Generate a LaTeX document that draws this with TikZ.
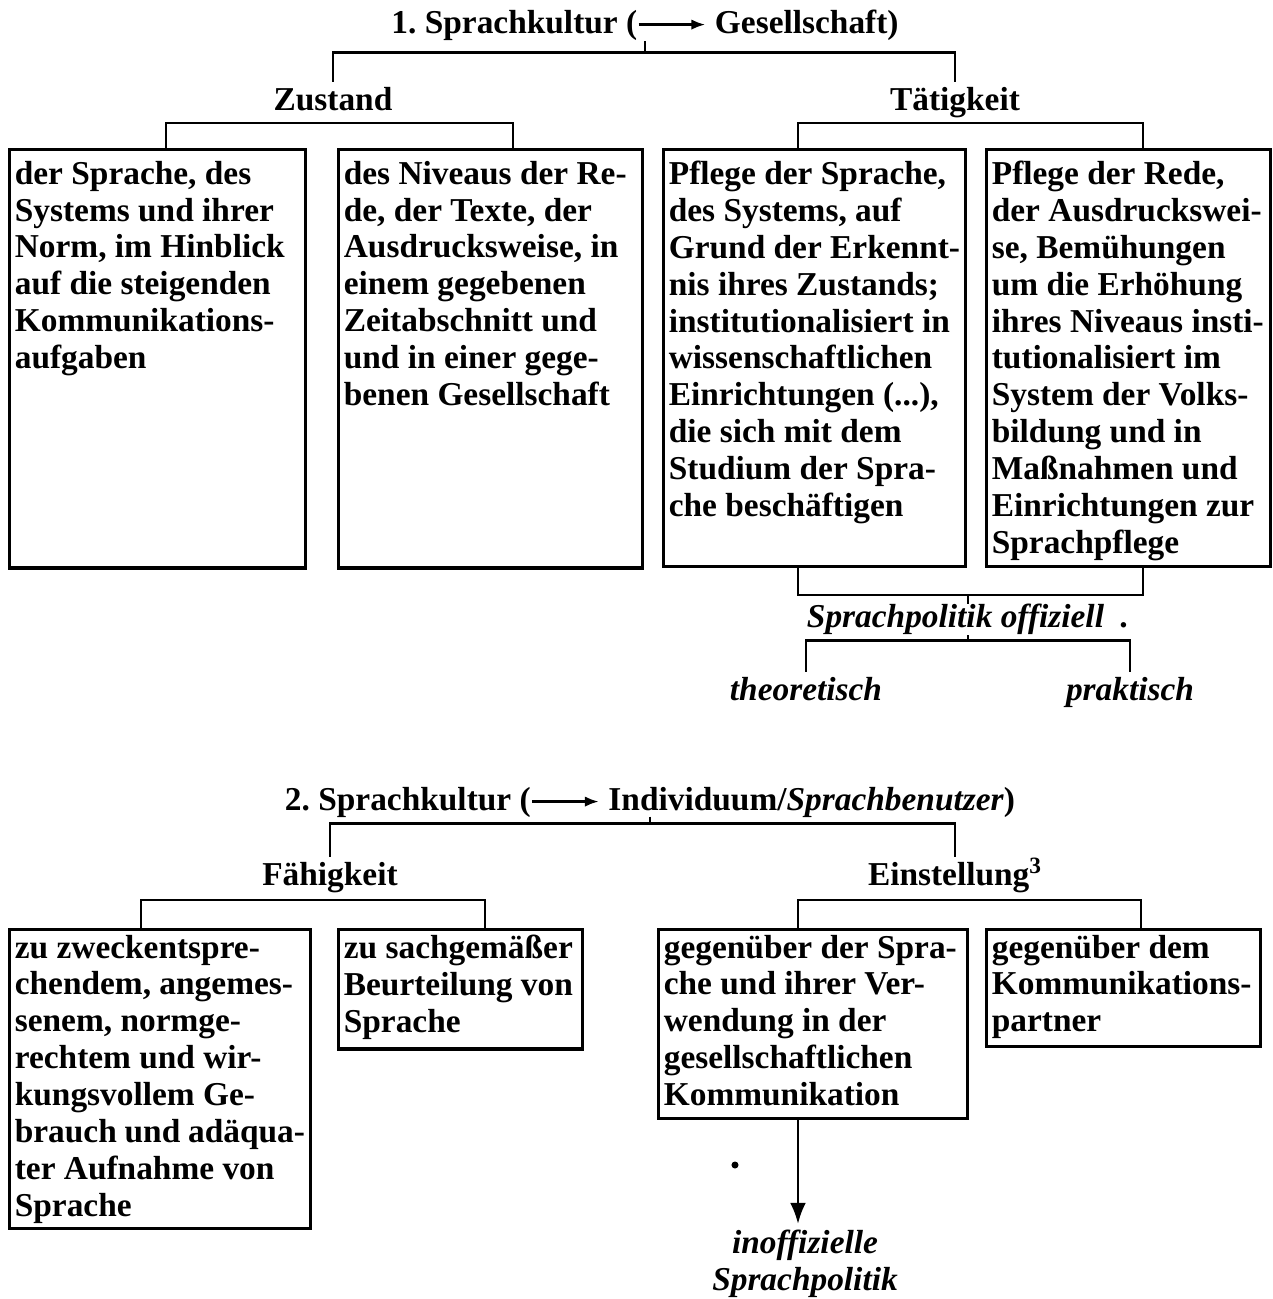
\documentclass[tikz,border=0pt]{standalone}
\usepackage{fontspec}
\setmainfont{Liberation Serif}
\usetikzlibrary{arrows.meta}
\frenchspacing

\newcommand\pfeil{\tikz[baseline=-0.55ex]\draw[line width=1.5pt,-{Latex[length=8pt,width=6pt]}] (0,0) -- (2em,0);}
\newcommand\kastentext[3]{\parbox[t][#2][t]{#1}{\raggedright #3}}

\tikzset{
  schrift/.style={font=\fontsize{19}{21}\selectfont\bfseries},
  kasten/.style={schrift, draw, line width=1.8pt, anchor=north west, inner sep=3pt},
  kastenoben/.style={kasten, inner ysep=6.5pt},
  titel/.style={schrift, inner sep=3pt, anchor=base, text height=13pt, text depth=4.5pt},
  kursiv/.style={titel, font=\fontsize{19}{21}\selectfont\bfseries\itshape},
  klammer/.style={line width=1.6pt},
}

\begin{document}
\begin{tikzpicture}[x=0.02cm,y=-0.02cm]
\useasboundingbox (0,0) rectangle (1273,1299);

% 1. Sprachkultur
\node[titel] (titel1) at (645,33) {1. Sprachkultur (\pfeil\ Gesellschaft)};
\node[titel] (zustand) at (333,110) {Zustand};
\node[titel] (taetigkeit) at (955,110) {Tätigkeit};

\node[kastenoben] (sprache) at (8,148) {\kastentext{162.4pt}{225.1pt}{der Sprache, des\\ Systems und ihrer\\ Norm, im Hinblick\\ auf die steigenden\\ Kommunikations-\\ aufgaben}};
\node[kastenoben] (niveau) at (337,148) {\kastentext{166.9pt}{225.1pt}{des Niveaus der Re-\\ de, der Texte, der\\ Ausdrucksweise, in\\ einem gegebenen\\ Zeitabschnitt und\\ und in einer gege-\\ benen Gesellschaft}};
\node[kastenoben] (pflegesprache) at (662,148) {\kastentext{165.8pt}{224.5pt}{Pflege der Sprache,\\ des Systems, auf\\ Grund der Erkennt-\\ nis ihres Zustands;\\ institutionalisiert in\\ wissenschaftlichen\\ Einrichtungen (...),\\ die sich mit dem\\ Studium der Spra-\\ che beschäftigen}};
\node[kastenoben] (pflegerede) at (985,148) {\kastentext{155.6pt}{224.5pt}{Pflege der Rede,\\ der Ausdruckswei-\\ se, Bemühungen\\ um die Erhöhung\\ ihres Niveaus insti-\\ tutionalisiert im\\ System der Volks-\\ bildung und in\\ Maßnahmen und\\ Einrichtungen zur\\ Sprachpflege}};

\node[kursiv] (offiziell) at (968,627) {Sprachpolitik offiziell\enspace.};
\node[kursiv] (theoretisch) at (806,700) {theoretisch};
\node[kursiv] (praktisch) at (1130,700) {praktisch};

\draw[klammer] (zustand.north) |- ([yshift=-3.5pt]titel1.south) -| (taetigkeit.north);
\draw[klammer] ([yshift=3pt]titel1.south) -- ([yshift=-3.5pt]titel1.south);
\draw[klammer] ([xshift=4.8pt]sprache.north) -- ++(0,-25) -| ([xshift=12.8pt]niveau.north);
\draw[klammer] ([xshift=-9.4pt]pflegesprache.north) -- ++(0,-25) -| ([xshift=8.2pt]pflegerede.north);
\draw[klammer] ([xshift=-9.4pt]pflegesprache.south) |- ([yshift=2pt]offiziell.north) -| ([xshift=8.2pt]pflegerede.south);
\draw[klammer] ([yshift=-3pt]offiziell.north) -- ([yshift=2pt]offiziell.north);
\draw[klammer] (theoretisch.north) |- (offiziell.south) -| (praktisch.north);
\draw[klammer] ([yshift=3pt]offiziell.south) -- (offiziell.south);

% 2. Sprachkultur
\node[titel] (titel2) at (650,810) {2. Sprachkultur (\pfeil\ Individuum/\textit{Sprachbenutzer})};
\node[titel] (faehigkeit) at (330,885) {Fähigkeit};
\node[titel] (einstellung) at (955,885) {Einstellung\textsuperscript{3}};

\node[kasten] (gebrauch) at (8,928) {\kastentext{165.2pt}{164.1pt}{zu zweckentspre-\\ chendem, angemes-\\ senem, normge-\\ rechtem und wir-\\ kungsvollem Ge-\\ brauch und adäqua-\\ ter Aufnahme von\\ Sprache}};
\node[kasten] (beurteilung) at (337,928) {\kastentext{132.9pt}{62pt}{zu sachgemäßer\\ Beurteilung von\\ Sprache}};
\node[kasten] (verwendung) at (657,928) {\kastentext{169.7pt}{101.7pt}{gegenüber der Spra-\\ che und ihrer Ver-\\ wendung in der\\ gesellschaftlichen\\ Kommunikation}};
\node[kasten] (partner) at (985,928) {\kastentext{149.9pt}{60.3pt}{gegenüber dem\\ Kommunikations-\\ partner}};

\node[schrift, font=\fontsize{19}{21}\selectfont\bfseries\itshape, align=center] (inoffiziell) at (805,1264) {inoffizielle\\ Sprachpolitik};

\draw[klammer] (faehigkeit.north) |- (titel2.south) -| (einstellung.north);
\draw[klammer] ([yshift=4pt]titel2.south) -- (titel2.south);
\draw[klammer] ([xshift=-10.8pt]gebrauch.north) -- ++(0,-28) -| ([xshift=13.9pt]beurteilung.north);
\draw[klammer] ([xshift=-8.5pt]verwendung.north) -- ++(0,-28) -| ([xshift=9.9pt]partner.north);
\draw[klammer,-{Latex[length=12pt,width=9pt]}] ([xshift=-8.5pt]verwendung.south) -- ([xshift=-8.5pt]verwendung.south |- inoffiziell.north);
\fill (735,1165) circle[radius=2pt];
\end{tikzpicture}
\end{document}
